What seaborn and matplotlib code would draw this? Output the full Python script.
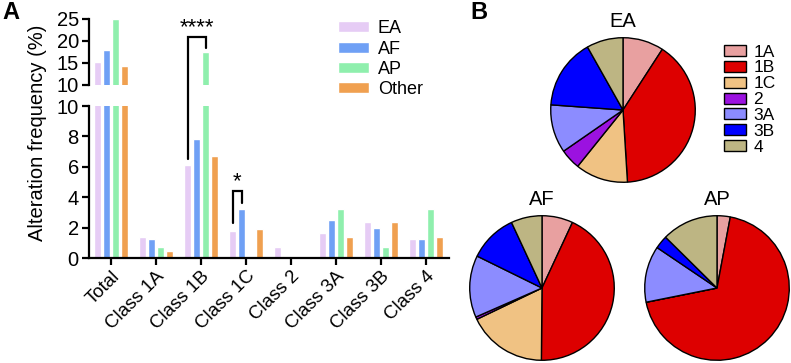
import numpy as np
import pandas as pd
import matplotlib
matplotlib.use("Agg")
import matplotlib.pyplot as plt
import seaborn as sns

# data
categories = ['Total', 'Class 1A', 'Class 1B', 'Class 1C', 'Class 2', 'Class 3A', 'Class 3B', 'Class 4']
groups = ['EA', 'AF', 'AP', 'Other']
ea = [15.3, 1.4, 6.1, 1.8, 0.7, 1.65, 2.4, 1.25]
af = [18.0, 1.25, 7.8, 3.2, 0.1, 2.5, 1.95, 1.25]
ap = [25.0, 0.75, 17.5, 0.0, 0.0, 3.2, 0.75, 3.2]
other = [14.3, 0.45, 6.7, 1.9, 0.0, 1.4, 2.4, 1.4]

pie_labels = ['1A', '1B', '1C', '2', '3A', '3B', '4']
pie_colors = ['#E8A0A0', '#DD0000', '#F0C283', '#9B12E0', '#8C8CFF', '#0000FF', '#BDB583']
bar_colors = ['#E6CCF5', '#6FA0F5', '#8FEFAD', '#F0A050']

sns.set_style('ticks')
plt.rcParams['font.family'] = ['Liberation Sans', 'DejaVu Sans']
plt.rcParams.update({'text.color': 'black', 'axes.edgecolor': 'black',
                     'xtick.color': 'black', 'ytick.color': 'black',
                     'axes.labelcolor': 'black'})

df = pd.DataFrame({'category': categories * 4,
                   'group': np.repeat(groups, len(categories)),
                   'value': ea + af + ap + other})

fig = plt.figure(figsize=(7.91, 3.63), dpi=100)
ax_lo = fig.add_axes([88.5 / 791, 105 / 363, 360 / 791, 152 / 363])
ax_hi = fig.add_axes([88.5 / 791, 278 / 363, 360 / 791, 66 / 363])
ax_hi.set_facecolor('none')

for ax in (ax_lo, ax_hi):
    sns.barplot(data=df, x='category', y='value', hue='group', palette=bar_colors,
                gap=0.15, width=0.8, ax=ax, legend=(ax is ax_lo), saturation=1)
    ax.set_xlim(-0.5, 7.5)
    ax.set_xlabel('')
    ax.set_ylabel('')
    for s in ['top', 'right']:
        ax.spines[s].set_visible(False)
    ax.spines['left'].set_linewidth(1.6)
    ax.tick_params(axis='both', length=5, width=1.6, labelsize=14.5, pad=2, direction='out')

ax_lo.set_ylim(0, 10)
ax_lo.set_yticks([0, 2, 4, 6, 8, 10])
ax_lo.spines['bottom'].set_linewidth(1.6)
ax_lo.set_xticks(range(len(categories)))
ax_lo.set_xticklabels(categories, rotation=45, ha='right', rotation_mode='anchor', fontsize=13.5)

ax_hi.set_ylim(10, 25)
ax_hi.set_yticks([10, 15, 20, 25])
ax_hi.spines['bottom'].set_visible(False)
ax_hi.tick_params(axis='x', bottom=False, labelbottom=False)

handles, labels = ax_lo.get_legend_handles_labels()
ax_lo.legend_.remove()
fig.legend(handles, labels, loc='upper left', bbox_to_anchor=(322 / 791, 1 - 4 / 363),
           frameon=False, fontsize=13, handlelength=1.7, handleheight=0.55,
           labelspacing=0.18, handletextpad=0.5)

fig.text(38 / 791, 1 - 133 / 363, 'Alteration frequency (%)', rotation=90,
         ha='center', va='center', fontsize=14.5)


def hi_to_lo(y):
    disp = ax_hi.transData.transform((0, y))
    return ax_lo.transData.inverted().transform(disp)[1]


def bar_x(cat, grp):
    return cat - 0.3 + 0.2 * grp


# **** bracket Class 1B: EA vs AP
x1, x2 = bar_x(2, 0), bar_x(2, 2)
top = hi_to_lo(21.0)
ax_lo.plot([x1, x1, x2, x2], [6.5, top, top, hi_to_lo(18.3)], color='black', lw=1.6,
           clip_on=False, solid_joinstyle='miter', zorder=5)
ax_lo.text((x1 + x2) / 2, hi_to_lo(20.6), '****', ha='center', va='bottom', fontsize=16)

# * bracket Class 1C: EA vs AF
x1, x2 = bar_x(3, 0), bar_x(3, 1)
ax_lo.plot([x1, x1, x2, x2], [2.3, 4.4, 4.4, 3.6], color='black', lw=1.6,
           clip_on=False, solid_joinstyle='miter', zorder=5)
ax_lo.text((x1 + x2) / 2, 4.3, '*', ha='center', va='bottom', fontsize=16)

# pies
pie_data = {'EA': ea[1:], 'AF': af[1:], 'AP': ap[1:]}
pie_pos = {'EA': (623, 110), 'AF': (542, 288), 'AP': (717, 288)}
r = 73
wedges_ea = None
for name, vals in pie_data.items():
    cx, cy = pie_pos[name]
    pax = fig.add_axes([(cx - r) / 791, (363 - cy - r) / 363, 2 * r / 791, 2 * r / 363])
    w, _ = pax.pie(vals, colors=pie_colors, startangle=90, counterclock=False,
                   wedgeprops=dict(edgecolor='black', linewidth=1))
    pax.set_xlim(-1.01, 1.01)
    pax.set_ylim(-1.01, 1.01)
    pax.set_title(name, fontsize=14.5, pad=7)
    if name == 'EA':
        wedges_ea = w

fig.legend(wedges_ea, pie_labels, loc='upper left', bbox_to_anchor=(708 / 791, 1 - 29 / 363),
           frameon=False, fontsize=12.5, handlelength=1.3, handleheight=0.6,
           labelspacing=0.05, handletextpad=0.4)

fig.text(2 / 791, 1 - 1 / 363, 'A', fontsize=17, fontweight='bold', ha='left', va='top')
fig.text(470 / 791, 1 - 1 / 363, 'B', fontsize=17, fontweight='bold', ha='left', va='top')

plt.savefig('out.png', dpi=100)
